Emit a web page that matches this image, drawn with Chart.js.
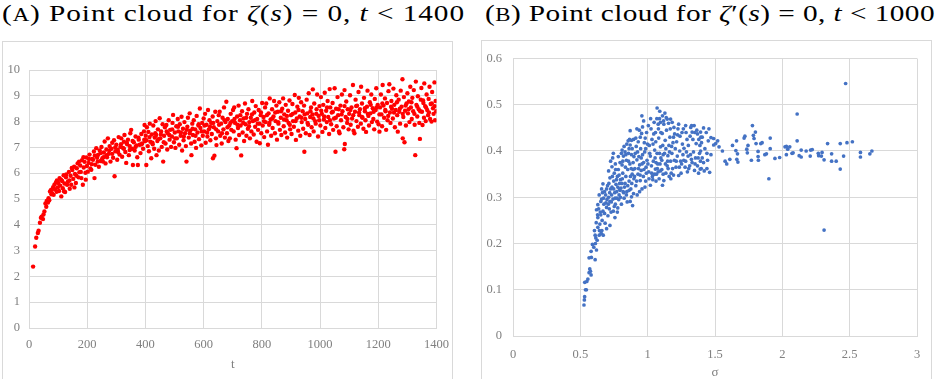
<!DOCTYPE html>
<html lang="en">
<head>
<meta charset="UTF-8">
<title>Point clouds for the zeros of ζ(s) and ζ′(s)</title>
<script src="https://cdn.jsdelivr.net/npm/chart.js"></script>
<style>
body {
margin: 0;
width: 935px;
height: 379px;
overflow: hidden;
background: #ffffff;
position: relative;
font-family: 'Liberation Serif', 'Times New Roman', serif;
}
.caption {
position: absolute;
top: -1px;
white-space: nowrap;
font-family: 'Liberation Serif', 'Times New Roman', serif;
font-size: 24px;
line-height: 28px;
color: #000;
transform-origin: 0 0;
}
.caption .sc { font-size: 0.78em; }
.frame {
position: absolute;
border: 1px solid #d9d9d9;
box-sizing: border-box;
}
canvas { position: absolute; }
</style>
</head>
<body>
<div class="caption" id="capA" style="left:2px">(<span class="sc">A</span>) Point cloud for <i>ζ</i>(<i>s</i>) = 0, <i>t</i> &lt; 1400</div>
<div class="caption" id="capB" style="left:485px">(<span class="sc">B</span>) Point cloud for <i>ζ</i>′(<i>s</i>) = 0, <i>t</i> &lt; 1000</div>

<div class="frame" style="left:2px; top:41px; width:451px; height:350px"></div>
<div class="frame" style="left:481px; top:40px; width:451px; height:351px"></div>

<canvas id="zetaChart" width="458" height="349" style="left:0; top:41px"></canvas>
<canvas id="derivChart" width="451" height="350" style="left:481px; top:40px"></canvas>

<script>
// (A) zeros of zeta(s): [t, value]
const zetaCloud = [
[14.1,2.38],[21.0,3.16],[25.0,3.50],[30.4,3.68],[32.9,3.77],[37.6,4.08],[40.9,4.27],[43.3,4.31],[48.0,4.22],[49.8,4.40],
[53.0,4.52],[56.4,4.83],[59.3,4.70],[60.8,4.92],[65.1,4.86],[67.1,5.03],[69.5,4.95],[72.1,5.29],[75.7,5.35],[77.1,5.18],
[79.3,5.22],[82.9,5.46],[84.7,5.16],[87.4,5.55],[88.8,5.38],[92.5,5.64],[94.6,5.28],[95.9,5.72],[98.8,5.45],
[101,5.62],[103,5.31],[105,5.81],[107,5.52],[111,5.10],[114,5.70],[116,5.42],[119,5.92],[122,5.60],[124,5.27],
[127,5.84],[131,5.55],[134,5.68],[137,6.05],[140,5.40],[143,5.90],[145,5.55],[149,6.12],[152,5.78],[155,6.25],
[158,5.97],[161,5.62],[164,6.19],[167,6.38],[170,5.84],[173,6.04],[176,6.30],[180,5.81],[182,6.50],[185,5.55],
[188,6.22],[191,6.44],[194,6.02],[197,6.61],[199,6.28],
[110,5.75],[120,5.30],[128,5.95],[139,5.72],[147,6.20],[156,5.45],[163,5.90],[172,6.45],[178,6.05],[187,6.62],[195,5.75],
[202,6.06],[205,6.40],[208,6.72],[211,6.18],[214,6.13],[217,6.55],[220,6.52],[223,6.84],[225,5.81],[228,6.33],
[231,6.97],[234,6.60],[237,6.71],[240,6.25],[243,6.88],[246,6.47],[249,7.02],[252,6.58],[254,6.45],[257,6.80],
[260,7.23],[263,6.38],[266,6.92],[268,6.62],[271,7.35],[274,6.75],[277,7.05],[280,6.45],[283,6.95],[286,7.18],
[289,6.60],[292,7.28],[294,5.88],[297,6.85],[300,7.10],[303,6.52],[305,6.90],[308,7.40],[311,6.72],[314,7.02],
[317,7.35],[320,6.64],[323,6.98],[326,7.22],[328,7.48],[331,6.82],[334,6.40],[337,7.12],[340,7.30],[343,6.70],
[346,7.05],[348,7.55],[351,7.68],[354,6.95],[357,6.32],[360,7.20],[363,6.88],[366,7.42],[369,7.08],[372,6.62],
[374,6.32],[377,7.30],[380,7.10],[383,6.78],[386,7.52],[389,7.15],[392,6.95],[395,7.62],[397,7.87],[399,7.25],
[206,6.55],[216,6.35],[226,6.68],[236,6.45],[246,6.78],[256,6.62],[266,6.70],[276,6.88],[286,6.75],[296,7.00],
[306,6.82],[316,7.12],[326,6.95],[336,7.18],[346,6.90],[356,7.25],[366,7.02],[376,7.38],[386,7.12],[396,7.30],
[401,7.45],[403,6.32],[405,7.78],[408,7.05],[410,7.60],[412,6.85],[415,7.92],[417,7.22],[420,6.58],[422,7.50],
[425,7.12],[427,7.85],[430,6.95],[432,7.38],[435,8.02],[437,7.48],[438,6.70],[441,7.25],[443,7.70],[446,6.88],
[449,8.13],[451,7.35],[454,7.62],[456,7.02],[459,7.90],[461,6.45],[464,7.45],[467,7.78],[469,7.15],[472,7.87],
[475,6.92],[477,7.55],[480,8.05],[483,7.30],[485,7.68],[488,7.02],[491,7.42],[493,7.95],[495,8.26],[498,7.20],
[501,7.58],[503,6.98],[506,7.82],[508,7.35],[511,8.10],[513,7.62],[516,7.10],[518,7.90],[521,7.45],[524,8.19],
[526,6.88],[529,7.72],[531,7.28],[534,7.98],[536,7.55],[539,7.05],[541,6.45],[544,7.80],[546,8.15],[549,7.38],
[552,8.32],[554,7.65],[557,7.15],[558,6.70],[561,7.92],[563,7.48],[566,8.05],[569,7.22],[571,7.70],[574,6.98],
[576,8.22],[579,7.58],[582,7.85],[584,7.32],[587,8.51],[589,7.75],[592,7.08],[595,7.95],[597,7.45],[600,8.12],
[602,7.62],[605,8.30],[607,7.18],[610,7.88],[613,7.42],[615,8.45],[618,7.70],[620,8.05],[623,7.28],[626,7.95],
[628,7.52],[631,8.20],[632,6.58],[635,7.78],[637,6.68],[640,8.38],[642,7.35],[644,7.09],[647,8.02],[650,7.62],
[652,8.25],[655,8.38],[657,7.45],[660,7.92],[662,7.15],[665,8.15],[668,7.70],[670,8.55],[673,7.38],[675,7.98],
[678,8.77],[680,7.55],[683,8.10],[685,7.25],[688,7.85],[690,7.35],[693,8.30],[695,7.68],[698,8.02],[701,8.45],
[404,7.28],[414,7.40],[424,7.18],[434,7.55],[444,7.32],[453,7.50],[463,7.20],[473,7.62],[482,7.48],[492,7.70],
[502,7.35],[512,7.80],[522,7.58],[532,7.42],[542,7.68],[552,7.55],[562,7.72],[572,7.45],[583,7.90],[593,7.62],
[603,7.85],[612,7.58],[622,7.80],[633,7.95],[643,7.70],[653,7.88],[663,7.55],[672,8.05],[682,7.78],[692,7.95],
[703,7.62],[705,8.55],[708,7.95],[710,7.30],[713,6.97],[715,8.20],[718,7.75],[720,8.62],[722,7.48],[725,8.05],
[727,7.85],[729,6.69],[732,8.40],[734,7.58],[737,8.12],[739,7.25],[742,8.70],[744,7.90],[747,7.45],[749,8.30],
[752,7.72],[754,8.48],[757,7.98],[759,7.35],[762,8.15],[764,7.62],[767,8.80],[769,8.02],[772,7.50],[774,8.35],
[777,7.80],[779,8.60],[782,7.22],[784,8.10],[787,7.68],[789,8.45],[792,7.92],[793,7.16],[796,8.25],[798,7.55],
[801,8.72],[803,7.85],[806,8.18],[808,7.40],[811,8.55],[813,7.98],[815,8.70],[818,7.62],[821,7.10],[823,8.32],
[825,7.88],[827,8.90],[830,8.08],[832,7.45],[835,8.48],[837,7.75],[840,8.20],[842,8.80],[845,7.55],[847,8.02],
[850,8.62],[852,7.30],[855,8.38],[857,7.92],[860,8.75],[862,7.68],[865,8.15],[867,7.48],[870,8.50],[873,8.90],
[875,7.82],[877,8.28],[880,7.58],[882,8.65],[885,8.05],[887,7.38],[890,8.42],[892,7.95],[895,8.82],[897,7.70],
[900,8.25],[902,7.52],[905,8.68],[907,8.02],[910,7.80],[913,9.03],[915,8.35],[917,7.29],[920,8.12],[922,8.58],
[925,7.65],[927,8.92],[930,8.20],[932,7.45],[935,8.75],[937,7.98],[940,8.40],[942,7.72],[945,8.62],[946,6.83],
[949,8.10],[951,7.55],[954,8.85],[956,8.32],[959,7.88],[961,9.10],[964,7.48],[966,8.18],[969,8.55],[971,7.78],
[974,8.28],[975,9.25],[978,7.62],[980,8.70],[983,8.02],[985,7.92],[988,8.48],[990,9.05],[993,7.42],[995,8.22],
[998,8.60],
[706,8.10],[716,7.88],[726,8.25],[736,7.95],[746,8.15],[756,7.82],[766,8.28],[776,8.05],[786,7.92],[797,8.35],
[807,8.02],[817,8.25],[826,7.95],[836,8.12],[846,8.35],[856,7.98],[866,8.40],[876,8.08],[886,8.22],[896,7.88],
[906,8.30],[916,8.02],[926,8.45],[936,8.15],[947,8.28],[957,7.95],[967,8.40],[977,8.12],[987,8.30],[997,8.05],
[1001,7.85],[1003,8.95],[1006,8.30],[1008,7.60],[1011,8.65],[1013,8.08],[1016,9.12],[1018,7.75],[1021,8.42],[1023,7.98],
[1026,8.80],[1028,8.18],[1031,7.52],[1033,9.26],[1035,8.55],[1038,7.90],[1040,8.35],[1043,8.72],[1045,7.68],[1048,8.12],
[1050,9.29],[1053,6.83],[1055,8.50],[1057,7.82],[1060,8.95],[1062,8.25],[1065,7.62],[1067,7.55],[1070,8.62],[1072,8.05],
[1075,9.05],[1077,8.40],[1080,7.78],[1083,6.93],[1084,9.22],[1085,7.13],[1088,8.18],[1090,8.78],[1093,7.95],[1095,8.48],
[1098,7.70],
[1100,8.30],[1103,9.02],[1105,7.88],[1108,8.55],[1110,8.12],[1113,9.42],[1115,7.65],[1118,7.55],[1120,8.38],[1122,8.85],
[1125,8.02],[1127,8.62],[1130,7.80],[1132,9.15],[1135,8.25],[1137,8.48],[1140,7.92],[1141,9.35],[1144,8.70],[1146,8.15],
[1149,7.72],[1151,8.92],[1154,8.40],[1156,8.05],[1158,7.60],[1161,8.58],[1163,9.20],[1166,8.22],[1168,7.85],[1171,8.75],
[1173,8.32],[1176,9.05],[1178,7.98],[1181,8.52],[1183,8.10],[1186,7.70],[1188,8.88],[1191,8.45],[1193,9.29],[1196,8.00],
[1198,8.65],
[1201,7.90],[1204,7.61],[1206,8.55],[1209,9.05],[1211,8.28],[1213,7.82],[1215,9.42],[1218,8.62],[1220,8.15],[1223,8.90],
[1225,8.40],[1227,7.68],[1230,8.72],[1232,8.05],[1235,9.18],[1238,9.45],[1240,8.35],[1242,7.95],[1245,8.80],[1247,8.50],
[1250,8.12],[1252,9.28],[1255,8.65],[1257,7.78],[1260,8.45],[1262,9.02],[1265,8.25],[1267,7.61],[1270,8.85],[1272,8.38],
[1275,7.92],[1277,9.20],[1280,8.58],[1283,9.64],[1284,7.35],[1286,8.18],[1288,8.95],[1290,7.20],[1292,8.42],[1295,7.85],
[1297,8.70],
[1300,9.10],[1302,8.32],[1305,8.78],[1307,7.98],[1310,9.35],[1312,8.55],[1315,8.10],[1317,8.92],[1320,8.40],[1322,9.22],
[1325,7.88],[1327,6.70],[1329,9.55],[1331,8.65],[1334,8.20],[1336,8.98],[1339,8.48],[1341,7.95],[1343,7.33],[1346,8.85],
[1348,9.30],[1350,8.38],[1352,7.87],[1355,8.72],[1357,8.15],[1358,9.48],[1361,8.60],[1363,8.02],[1366,9.05],[1368,8.45],
[1371,8.25],[1373,8.88],[1376,9.35],[1378,8.10],[1380,8.68],[1383,8.00],[1385,9.15],[1388,8.52],[1390,8.30],[1393,9.52],
[1395,8.05],[1397,8.80],[1399,8.40],
[1004,8.42],[1014,8.20],[1024,8.55],[1034,8.05],[1044,8.38],[1054,8.15],[1064,8.48],[1074,8.28],[1084,8.60],[1094,8.10],
[1104,8.45],[1114,8.25],[1124,8.60],[1134,8.35],[1144,8.18],[1154,8.52],[1164,8.30],[1174,8.65],[1184,8.38],[1194,8.55],
[1204,8.28],[1214,8.70],[1224,8.45],[1234,8.22],[1244,8.58],[1254,8.35],[1264,8.75],[1274,8.50],[1284,8.30],[1294,8.62],
[1304,8.48],[1314,8.75],[1324,8.30],[1334,8.58],[1344,8.40],[1354,8.82],[1364,8.55],[1374,8.35],[1384,8.70],[1394,8.60]
];

// (B) zeros of zeta'(s): [sigma, value]
const derivCloud = [
[0.527,0.067],[0.530,0.078],[0.532,0.085],[0.538,0.100],[0.545,0.100],[0.533,0.116],[0.548,0.118],[0.556,0.123],
[0.565,0.137],[0.575,0.140],[0.570,0.145],[0.580,0.132],[0.565,0.169],[0.582,0.170],[0.610,0.165],[0.580,0.183],
[0.620,0.186],[0.600,0.192],[0.612,0.200],[0.625,0.207],[0.610,0.218],[0.590,0.198],
[0.640,0.218],[0.655,0.222],[0.670,0.218],[0.630,0.235],[0.645,0.242],[0.660,0.228],[0.695,0.232],[0.720,0.239],
[0.630,0.256],[0.652,0.262],[0.620,0.273],[0.668,0.270],[0.695,0.278],[0.630,0.284],[0.652,0.291],[0.680,0.265],
[0.672,0.298],[0.640,0.305],[0.690,0.288],[0.705,0.260],[0.680,0.312],[0.695,0.318],[0.668,0.329],[0.710,0.300],
[0.658,0.318],
[0.605,0.228],[0.618,0.245],[0.628,0.262],[0.636,0.275],[0.648,0.268],[0.662,0.250],[0.675,0.285],[0.688,0.305],
[0.642,0.228],[0.658,0.296],[0.615,0.212],[0.684,0.244],[0.698,0.295],[0.664,0.310],[0.702,0.325],
[0.720,0.291],[0.732,0.305],[0.710,0.357],[0.757,0.256],[0.745,0.270],[0.778,0.277],[0.760,0.285],[0.785,0.295],
[0.770,0.312],[0.735,0.322],[0.748,0.335],[0.720,0.342],[0.735,0.366],[0.752,0.352],[0.765,0.328],[0.790,0.318],
[0.775,0.345],[0.795,0.375],[0.760,0.372],[0.740,0.385],[0.782,0.360],[0.798,0.338],[0.725,0.318],[0.715,0.275],
[0.742,0.296],[0.788,0.305],[0.755,0.310],[0.775,0.268],
[0.708,0.285],[0.718,0.310],[0.728,0.268],[0.738,0.345],[0.748,0.318],[0.758,0.298],[0.768,0.338],[0.778,0.322],
[0.788,0.348],[0.798,0.300],[0.712,0.330],[0.725,0.378],[0.745,0.395],[0.762,0.360],[0.782,0.388],[0.795,0.315],
[0.730,0.290],[0.752,0.280],[0.772,0.298],[0.792,0.330],
[0.820,0.389],[0.810,0.402],[0.832,0.398],[0.845,0.312],[0.870,0.291],[0.880,0.301],[0.895,0.308],[0.870,0.413],
[0.880,0.423],[0.870,0.444],[0.855,0.422],[0.815,0.352],[0.828,0.322],[0.808,0.330],[0.838,0.345],[0.852,0.360],
[0.862,0.335],[0.875,0.318],[0.885,0.350],[0.842,0.380],[0.858,0.395],[0.892,0.375],[0.825,0.298],[0.805,0.285],
[0.848,0.290],[0.818,0.312],[0.868,0.372],[0.898,0.340],[0.835,0.365],[0.810,0.370],[0.880,0.392],[0.895,0.425],
[0.862,0.405],[0.888,0.282],
[0.802,0.320],[0.812,0.340],[0.822,0.310],[0.832,0.330],[0.842,0.305],[0.852,0.325],[0.862,0.315],[0.872,0.345],
[0.882,0.330],[0.892,0.360],[0.805,0.395],[0.825,0.410],[0.845,0.415],[0.865,0.425],[0.885,0.405],[0.815,0.378],
[0.838,0.392],[0.858,0.378],[0.878,0.362],[0.898,0.388],
[0.920,0.448],[0.957,0.476],[0.970,0.465],[0.945,0.430],[0.920,0.381],[0.935,0.388],[0.970,0.375],[0.945,0.336],
[0.980,0.322],[0.912,0.325],[0.928,0.350],[0.952,0.358],[0.968,0.345],[0.990,0.352],[0.905,0.362],[0.940,0.370],
[0.962,0.392],[0.985,0.405],[0.915,0.410],[0.930,0.420],[0.955,0.438],[0.975,0.418],[0.992,0.440],[0.908,0.395],
[0.948,0.405],[0.995,0.380],[0.922,0.305],[0.958,0.318],[0.985,0.335],[0.940,0.312],
[0.902,0.345],[0.918,0.335],[0.932,0.362],[0.944,0.348],[0.958,0.372],[0.972,0.360],[0.988,0.365],[0.912,0.428],
[0.938,0.445],[0.962,0.452],[0.982,0.428],[0.998,0.415],[0.925,0.398],[0.952,0.385],[0.978,0.398],
[1.020,0.389],[1.020,0.326],[1.035,0.345],[1.057,0.361],[1.070,0.395],[1.045,0.437],[1.080,0.448],[1.060,0.420],
[1.095,0.409],[1.095,0.357],[1.070,0.493],[1.090,0.486],[1.095,0.462],[1.008,0.355],[1.028,0.368],[1.042,0.378],
[1.012,0.412],[1.032,0.425],[1.052,0.402],[1.075,0.372],[1.085,0.340],[1.062,0.335],[1.005,0.455],[1.025,0.448],
[1.048,0.462],[1.068,0.470],[1.082,0.428],[1.015,0.395],[1.038,0.338],[1.078,0.355],[1.098,0.385],[1.055,0.385],
[1.088,0.470],[1.002,0.372],[1.065,0.350],
[1.110,0.476],[1.120,0.458],[1.145,0.469],[1.170,0.469],[1.195,0.451],[1.200,0.437],[1.120,0.336],[1.110,0.326],
[1.145,0.368],[1.170,0.378],[1.130,0.423],[1.158,0.412],[1.180,0.395],[1.125,0.395],[1.105,0.380],[1.135,0.352],
[1.160,0.345],[1.185,0.362],[1.108,0.438],[1.140,0.445],[1.165,0.430],[1.188,0.418],[1.115,0.350],[1.150,0.390],
[1.175,0.352],[1.198,0.380],[1.132,0.372],[1.155,0.460],[1.182,0.462],[1.162,0.398],[1.112,0.412],[1.128,0.482],
[1.010,0.340],[1.030,0.352],[1.050,0.350],[1.072,0.362],[1.092,0.372],[1.040,0.415],[1.058,0.440],[1.078,0.458],
[1.098,0.440],[1.115,0.392],[1.135,0.405],[1.152,0.362],[1.172,0.340],[1.192,0.348],[1.118,0.465],[1.138,0.472],
[1.168,0.448],[1.192,0.430],[1.105,0.360],[1.148,0.378],[1.178,0.410],[1.022,0.470],[1.088,0.395],[1.062,0.375],
[1.220,0.389],[1.230,0.347],[1.230,0.458],[1.270,0.406],[1.300,0.389],[1.248,0.352],[1.215,0.420],[1.240,0.432],
[1.265,0.448],[1.285,0.440],[1.252,0.372],[1.278,0.365],[1.295,0.355],[1.210,0.365],[1.238,0.400],[1.258,0.415],
[1.288,0.398],[1.225,0.448],[1.268,0.380],[1.245,0.378],[1.292,0.425],[1.205,0.405],
[1.330,0.375],[1.370,0.368],[1.330,0.441],[1.370,0.437],[1.320,0.451],[1.345,0.455],[1.395,0.430],[1.360,0.416],
[1.326,0.455],[1.340,0.398],[1.355,0.385],[1.385,0.395],[1.312,0.368],[1.348,0.358],[1.378,0.352],[1.392,0.378],
[1.365,0.445],[1.302,0.412],[1.318,0.392],[1.388,0.412],[1.336,0.425],[1.398,0.362],
[1.212,0.378],[1.235,0.365],[1.262,0.392],[1.282,0.378],[1.305,0.362],[1.325,0.382],[1.352,0.372],[1.375,0.385],
[1.222,0.435],[1.255,0.440],[1.282,0.455],[1.315,0.432],[1.350,0.440],[1.380,0.425],[1.415,0.375],[1.425,0.405],
[1.435,0.440],[1.445,0.380],
[1.393,0.441],[1.405,0.430],[1.415,0.450],[1.400,0.418],[1.393,0.400],[1.405,0.385],[1.440,0.395],[1.390,0.361],
[1.420,0.357],[1.440,0.362],[1.460,0.354],[1.470,0.392],[1.455,0.448],[1.450,0.422],[1.470,0.429],[1.490,0.427],
[1.505,0.416],[1.490,0.413],[1.530,0.409],[1.520,0.422],[1.555,0.400],[1.575,0.378],[1.587,0.372],[1.610,0.382],
[1.630,0.412],[1.660,0.422],[1.655,0.401],[1.667,0.394],[1.662,0.382],[1.670,0.376],[1.716,0.428],[1.722,0.432],
[1.736,0.404],[1.740,0.396],[1.745,0.412],[1.770,0.380],[1.778,0.455],[1.785,0.434],[1.790,0.427],[1.800,0.441],
[1.805,0.416],[1.820,0.399],[1.820,0.388],[1.822,0.380],[1.840,0.416],[1.850,0.418],[1.870,0.392],[1.882,0.394],
[1.900,0.340],[1.910,0.428],[1.910,0.405],[1.945,0.384],[1.980,0.386],[2.020,0.409],[2.030,0.410],[2.040,0.404],
[2.055,0.409],[2.030,0.392],[2.072,0.395],[2.080,0.396],[2.110,0.480],[2.110,0.422],[2.125,0.390],[2.140,0.387],
[2.140,0.402],[2.177,0.400],[2.207,0.389],[2.210,0.402],[2.222,0.403],[2.267,0.395],[2.270,0.390],[2.290,0.389],
[2.295,0.397],[2.310,0.381],[2.336,0.416],[2.366,0.394],[2.366,0.378],[2.400,0.378],[2.430,0.416],[2.430,0.361],
[2.455,0.389],[2.470,0.546],[2.480,0.418],[2.520,0.420],[2.580,0.397],[2.580,0.387],[2.650,0.394],[2.665,0.400],
[2.310,0.229]
];

// axis ticks
const tTicks = [0, 200, 400, 600, 800, 1000, 1200, 1400];
const valueTicksA = [0, 1, 2, 3, 4, 5, 6, 7, 8, 9, 10];
const sigmaTicks = [0, 0.5, 1, 1.5, 2, 2.5, 3];
const valueTicksB = [0, 0.1, 0.2, 0.3, 0.4, 0.5, 0.6];

const gridColor = '#d9d9d9';
const labelColor = '#808080';
const labelFont = { family: "'Liberation Serif', 'Times New Roman', serif", size: 12.5 };

// fixed tick list on a linear axis, printed without digit grouping
function fixedAxis(ticks, extra) {
return Object.assign({
type: 'linear',
min: ticks[0],
max: ticks[ticks.length - 1],
afterBuildTicks: scale => { scale.ticks = ticks.map(v => ({ value: v })); },
grid: { color: gridColor, drawTicks: false },
border: { color: gridColor }
}, extra);
}

function cloudChart(canvasId, points, color, radius, xTicks, yTicks, dims) {
return new Chart(document.getElementById(canvasId), {
type: 'scatter',
data: {
datasets: [{
data: points.map(p => ({ x: p[0], y: p[1] })),
backgroundColor: color,
borderWidth: 0,
pointRadius: radius,
pointHoverRadius: radius
}]
},
options: {
responsive: false,
animation: false,
devicePixelRatio: 1,
layout: { padding: { top: dims.top, right: dims.right, left: 0, bottom: 0 } },
plugins: { legend: { display: false }, tooltip: { enabled: false } },
scales: {
x: fixedAxis(xTicks, {
position: 'bottom',
ticks: { color: labelColor, font: labelFont, padding: dims.xPad, maxRotation: 0, callback: v => String(v) },
title: { display: true, text: dims.xTitle, color: labelColor, font: { family: labelFont.family, size: 13 }, padding: { top: 0, bottom: dims.titlePad } },
afterFit: scale => { scale.height = dims.xHeight; }
}),
y: fixedAxis(yTicks, {
position: 'left',
ticks: { color: labelColor, font: labelFont, padding: dims.yPad, callback: v => String(v) },
afterFit: scale => { scale.width = dims.yWidth; }
})
}
}
});
}

cloudChart('zetaChart', zetaCloud, '#ff0000', 2.2, tTicks, valueTicksA,
{ top: 29, right: 21, xHeight: 62, yWidth: 29, xPad: 9, yPad: 9, titlePad: 18, xTitle: 't' });

cloudChart('derivChart', derivCloud, '#4472c4', 1.85, sigmaTicks, valueTicksB,
{ top: 8, right: 15, xHeight: 54, yWidth: 32, xPad: 11, yPad: 11, titlePad: 10, xTitle: 'σ' });

// spread each caption over its line: a horizontal stretch plus a little letter spacing
function fitCaption(id, width) {
const el = document.getElementById(id);
const stretch = 1.22;
el.style.letterSpacing = '0px';
el.style.transform = 'none';
const w = el.getBoundingClientRect().width;
const n = el.textContent.length;
el.style.letterSpacing = Math.max(0, (width / stretch - w) / n) + 'px';
el.style.transform = 'scaleX(' + stretch + ')';
}
fitCaption('capA', 463);
fitCaption('capB', 450);
</script>
</body>
</html>
